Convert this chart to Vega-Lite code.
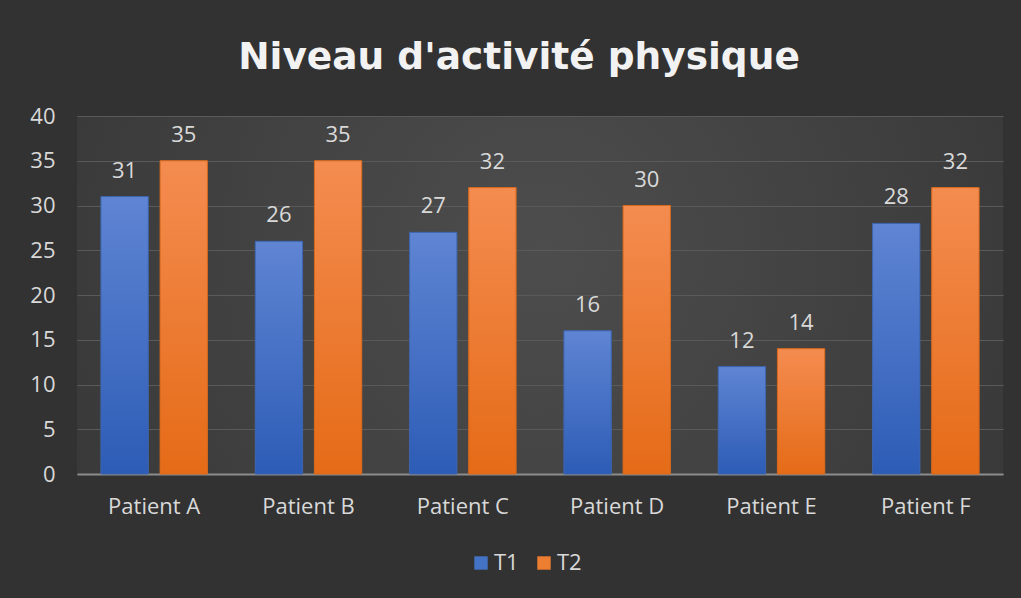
{
  "$schema": "https://vega.github.io/schema/vega-lite/v6.json",
  "width": 926,
  "height": 358,
  "autosize": {"type": "none"},
  "padding": {"left": 77, "top": 116, "right": 18, "bottom": 124},
  "background": "#323232",
  "view": {
    "stroke": null,
    "fill": {
      "gradient": "radial",
      "x1": 0.5, "y1": 0.45, "r1": 0,
      "x2": 0.5, "y2": 0.45, "r2": 0.75,
      "stops": [
        {"offset": 0, "color": "#4d4d4d"},
        {"offset": 1, "color": "#323232"}
      ]
    }
  },
  "title": {
    "text": "Niveau d'activité physique",
    "font": "DejaVu Sans",
    "fontSize": 37.5,
    "fontWeight": "bold",
    "color": "#f2f2f2",
    "anchor": "middle",
    "offset": 29,
    "dx": -21
  },
  "data": {
    "values": [
      {"patient": "Patient A", "serie": "T1", "value": 31},
      {"patient": "Patient A", "serie": "T2", "value": 35},
      {"patient": "Patient B", "serie": "T1", "value": 26},
      {"patient": "Patient B", "serie": "T2", "value": 35},
      {"patient": "Patient C", "serie": "T1", "value": 27},
      {"patient": "Patient C", "serie": "T2", "value": 32},
      {"patient": "Patient D", "serie": "T1", "value": 16},
      {"patient": "Patient D", "serie": "T2", "value": 30},
      {"patient": "Patient E", "serie": "T1", "value": 12},
      {"patient": "Patient E", "serie": "T2", "value": 14},
      {"patient": "Patient F", "serie": "T1", "value": 28},
      {"patient": "Patient F", "serie": "T2", "value": 32}
    ]
  },
  "encoding": {
    "x": {
      "field": "patient",
      "type": "nominal",
      "sort": null,
      "scale": {"paddingInner": 0.31, "paddingOuter": 0.155},
      "axis": {
        "title": null,
        "labelAngle": 0,
        "labelFont": "Open Sans",
        "labelFontSize": 22,
        "labelColor": "#d9d9d9",
        "ticks": false,
        "domainColor": "#8c8c8c",
        "domainWidth": 2,
        "labelPadding": 22,
        "grid": false
      }
    },
    "xOffset": {
      "field": "serie",
      "type": "nominal",
      "sort": ["T1", "T2"],
      "scale": {"paddingInner": 0.2}
    },
    "y": {
      "field": "value",
      "type": "quantitative",
      "scale": {"domain": [0, 40]},
      "axis": {
        "title": null,
        "values": [0, 5, 10, 15, 20, 25, 30, 35, 40],
        "labelFont": "Open Sans",
        "labelFontSize": 22,
        "labelColor": "#d9d9d9",
        "ticks": false,
        "domain": false,
        "gridColor": "#5a5a5a",
        "gridWidth": 1,
        "labelPadding": 22
      }
    }
  },
  "layer": [
    {
      "mark": {"type": "bar"},
      "encoding": {
        "color": {
          "field": "serie",
          "type": "nominal",
          "scale": {"domain": ["T1", "T2"], "range": ["#4472c4", "#ed7d31"]},
          "legend": {
            "title": null,
            "orient": "none",
            "legendX": 393,
            "legendY": 436,
            "direction": "horizontal",
            "symbolType": "square",
            "symbolSize": 180,
            "symbolStrokeWidth": 0,
            "labelFont": "Open Sans",
            "labelFontSize": 22,
            "labelColor": "#d9d9d9",
            "labelOffset": 2,
            "columnPadding": 14
          }
        }
      }
    },
    {
      "transform": [{"filter": "datum.serie === 'T1'"}],
      "mark": {
        "type": "bar",
        "stroke": "#3d64ad",
        "strokeWidth": 1,
        "fill": {
          "gradient": "linear",
          "x1": 0, "y1": 0, "x2": 0, "y2": 1,
          "stops": [
            {"offset": 0, "color": "#5f85d3"},
            {"offset": 1, "color": "#2d5cb6"}
          ]
        }
      }
    },
    {
      "transform": [{"filter": "datum.serie === 'T2'"}],
      "mark": {
        "type": "bar",
        "stroke": "#d5681c",
        "strokeWidth": 1,
        "fill": {
          "gradient": "linear",
          "x1": 0, "y1": 0, "x2": 0, "y2": 1,
          "stops": [
            {"offset": 0, "color": "#f48c50"},
            {"offset": 1, "color": "#e56b17"}
          ]
        }
      }
    },
    {
      "mark": {
        "type": "text",
        "baseline": "alphabetic",
        "dy": -19,
        "font": "Open Sans",
        "fontSize": 22,
        "color": "#d9d9d9"
      },
      "encoding": {
        "text": {"field": "value", "type": "quantitative"}
      }
    }
  ]
}
